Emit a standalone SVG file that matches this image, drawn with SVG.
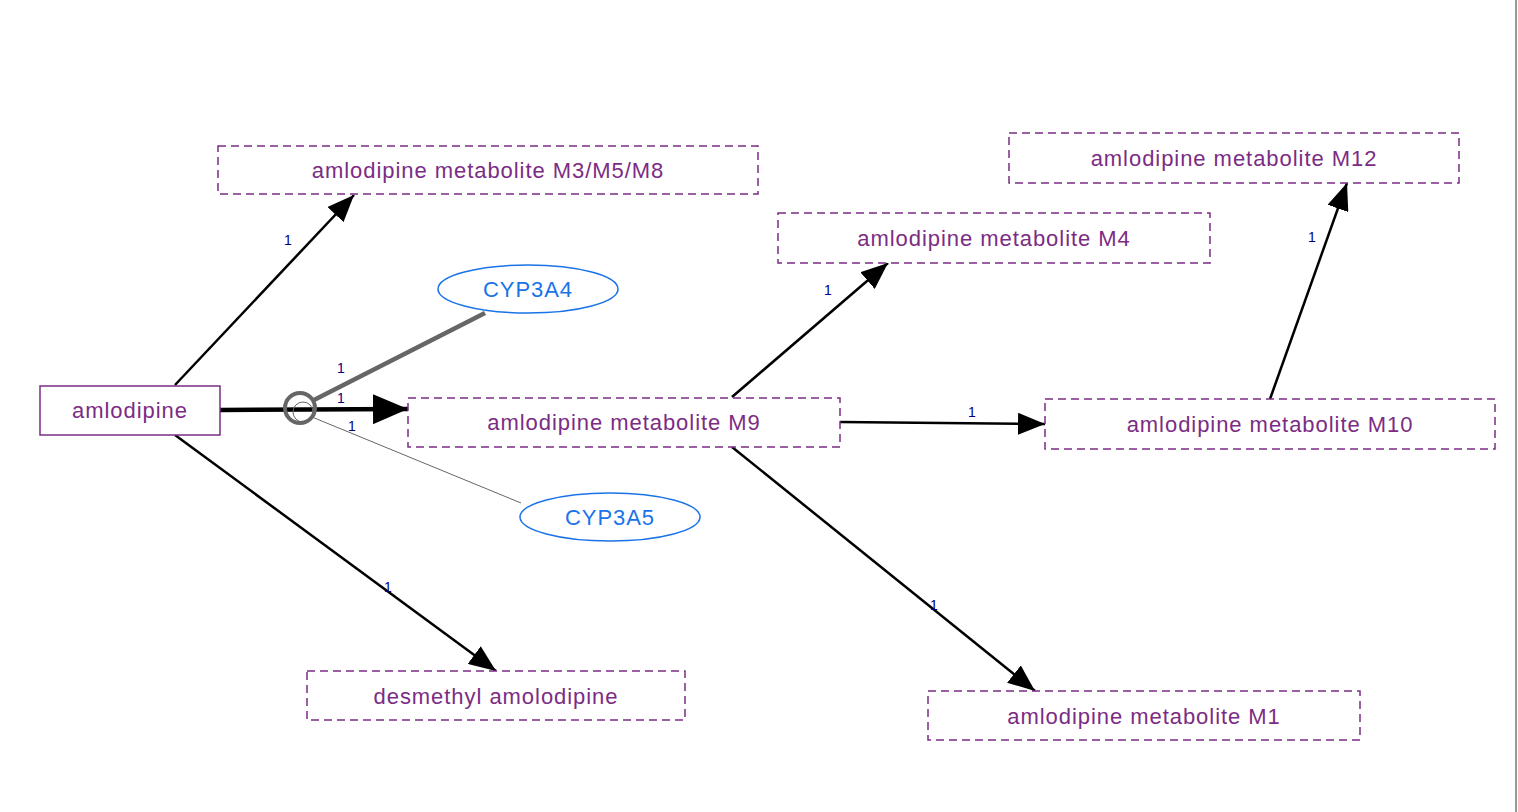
<svg xmlns="http://www.w3.org/2000/svg" width="1518" height="812" viewBox="0 0 1518 812">
<style>
.node rect{fill:#fff;stroke:#7b2c84;stroke-width:1.5}
.dashed rect{stroke-dasharray:8 5}
.ntext{font-family:"Liberation Sans",Arial,sans-serif;font-size:22px;letter-spacing:0.95px;fill:#7b2c84;text-anchor:middle;dominant-baseline:central}
.enz ellipse{fill:#fff;stroke:#1a73e8;stroke-width:1.5}
.etext{font-family:"Liberation Sans",Arial,sans-serif;font-size:22px;letter-spacing:0.95px;fill:#1a73e8;text-anchor:middle;dominant-baseline:central}
.edge{stroke:#000;stroke-width:2.5;fill:none}
.thick{stroke:#000;stroke-width:4.5;fill:none}
.lbl{font-family:"Liberation Sans",Arial,sans-serif;font-size:14px;fill:#000080;text-anchor:middle}
</style>
<defs>
<marker id="arr" markerUnits="userSpaceOnUse" markerWidth="27" markerHeight="22" refX="27" refY="11" orient="auto">
<path d="M0,0 L27,11 L0,22 z" fill="#000"/>
</marker>
<marker id="arrBig" markerUnits="userSpaceOnUse" markerWidth="35" markerHeight="30" refX="35" refY="15" orient="auto">
<path d="M0,0 L35,15 L0,30 z" fill="#000"/>
</marker>
</defs>
<rect x="0" y="0" width="1518" height="812" fill="#fff"/>
<line x1="1516" y1="0" x2="1516" y2="812" stroke="#999" stroke-width="2"/>
<g id="connectors">
<line class="edge" x1="175" y1="385" x2="354" y2="195" marker-end="url(#arr)"/>
<line class="edge" x1="175" y1="435" x2="496" y2="671" marker-end="url(#arr)"/>
<line class="thick" x1="220" y1="410" x2="408" y2="409" marker-end="url(#arrBig)"/>
<line x1="485" y1="313" x2="312" y2="401" stroke="#666" stroke-width="4.5"/>
<line x1="521" y1="503" x2="312" y2="417" stroke="#666" stroke-width="1"/>
<circle cx="300" cy="408" r="15" fill="none" stroke="#666" stroke-width="4"/>
<circle cx="303" cy="412" r="10" fill="none" stroke="#666" stroke-width="1"/>
<line class="edge" x1="732" y1="397" x2="888" y2="263" marker-end="url(#arr)"/>
<line class="edge" x1="840" y1="422" x2="1045" y2="424" marker-end="url(#arr)"/>
<line class="edge" x1="732" y1="447" x2="1035" y2="691" marker-end="url(#arr)"/>
<line class="edge" x1="1270" y1="399" x2="1347" y2="183" marker-end="url(#arr)"/>
<text class="lbl" x="288" y="245">1</text>
<text class="lbl" x="341" y="373">1</text>
<text class="lbl" x="341" y="403">1</text>
<text class="lbl" x="352" y="431">1</text>
<text class="lbl" x="388" y="592">1</text>
<text class="lbl" x="828" y="295">1</text>
<text class="lbl" x="972" y="417">1</text>
<text class="lbl" x="934" y="610">1</text>
<text class="lbl" x="1312" y="242">1</text>
</g>
<g id="n-amlodipine" class="node"><rect x="40" y="386" width="180" height="49"/><text class="ntext" x="130" y="410">amlodipine</text></g>
<g id="n-m358" class="node dashed"><rect x="218" y="146" width="540" height="48"/><text class="ntext" x="488" y="170">amlodipine metabolite M3/M5/M8</text></g>
<g id="n-m4" class="node dashed"><rect x="778" y="213" width="432" height="50"/><text class="ntext" x="994" y="238">amlodipine metabolite M4</text></g>
<g id="n-m12" class="node dashed"><rect x="1009" y="133" width="450" height="50"/><text class="ntext" x="1234" y="158">amlodipine metabolite M12</text></g>
<g id="n-m9" class="node dashed"><rect x="408" y="398" width="432" height="49"/><text class="ntext" x="624" y="422">amlodipine metabolite M9</text></g>
<g id="n-m10" class="node dashed"><rect x="1045" y="399" width="450" height="50"/><text class="ntext" x="1270" y="424">amlodipine metabolite M10</text></g>
<g id="n-desmethyl" class="node dashed"><rect x="307" y="671" width="378" height="49"/><text class="ntext" x="496" y="696">desmethyl amolodipine</text></g>
<g id="n-m1" class="node dashed"><rect x="928" y="691" width="432" height="49"/><text class="ntext" x="1144" y="716">amlodipine metabolite M1</text></g>
<g id="n-cyp3a4" class="enz"><ellipse cx="528" cy="289" rx="90" ry="24"/><text class="etext" x="528" y="289">CYP3A4</text></g>
<g id="n-cyp3a5" class="enz"><ellipse cx="610" cy="517" rx="90" ry="24"/><text class="etext" x="610" y="517">CYP3A5</text></g>
</svg>
